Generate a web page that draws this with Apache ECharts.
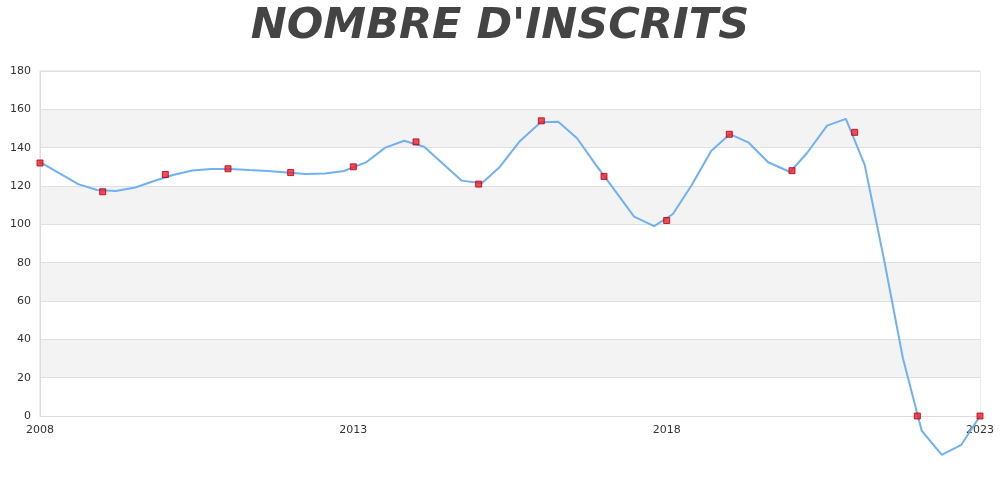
<!DOCTYPE html>
<html>
<head>
<meta charset="utf-8">
<script src="https://cdn.jsdelivr.net/npm/echarts@6/dist/echarts.min.js"></script>
<style>html,body{margin:0;padding:0;background:#fff}#c{width:1000px;height:500px}</style>
</head>
<body>
<div id="c"></div>
<script>
// Yearly data points (red markers)
const years = [2008,2009,2010,2011,2012,2013,2014,2015,2016,2017,2018,2019,2020,2021,2022,2023];
const inscrits = [132,117,126,129,127,130,143,121,154,125,102,147,128,148,0,0];

// Blue curve vertices (year, value)
const curveX = [2008.00,2008.30,2008.61,2008.91,2009.21,2009.52,2009.82,2010.12,2010.43,2010.73,
  2011.03,2011.34,2011.64,2011.94,2012.24,2012.55,2012.85,2013.20,2013.51,2013.81,
  2014.13,2014.73,2015.05,2015.34,2015.66,2015.99,2016.27,2016.57,2016.87,2017.19,
  2017.48,2017.80,2018.10,2018.40,2018.71,2019.01,2019.31,2019.62,2019.97,2020.24,
  2020.56,2020.86,2021.16,2021.47,2021.77,2022.07,2022.39,2022.70,2023.00];
const curveY = [132.5,126.8,121.0,117.9,117.4,119.2,122.6,125.7,128.1,128.9,
  128.9,128.3,127.8,127.0,126.3,126.5,127.8,132.3,140.0,143.6,
  140.5,122.8,121.4,130.1,143.5,153.2,153.5,144.9,131.0,116.9,
  104.0,99.1,105.4,120.5,138.3,147.1,142.6,132.4,127.3,137.2,
  151.5,155.0,131.0,81.4,30.1,-7.7,-20.3,-15.1,0];

const xTicks = {min:2008, max:2023, interval:5};
const yTicks = {min:0, max:180, interval:20};

const chart = echarts.init(document.getElementById('c'));
chart.setOption({
  animation:false,
  backgroundColor:'#fff',
  title:{
    text:"NOMBRE D'INSCRITS",
    left:'center', top:0,
    textStyle:{fontFamily:'DejaVu Sans', fontWeight:'bold', fontStyle:'italic', fontSize:43, color:'#444'}
  },
  grid:{left:40, right:20, top:71, bottom:84, show:true, borderColor:'#dcdcdc', borderWidth:1},
  xAxis:{
    type:'value', min:xTicks.min, max:xTicks.max, interval:xTicks.interval,
    axisLine:{show:true, lineStyle:{color:'#dcdcdc'}},
    axisTick:{show:false},
    splitLine:{show:false},
    axisLabel:{color:'#333', fontSize:11, fontFamily:'DejaVu Sans', margin:9, formatter:v=>String(v)}
  },
  yAxis:{
    type:'value', min:yTicks.min, max:yTicks.max, interval:yTicks.interval,
    axisLine:{show:true, lineStyle:{color:'#dcdcdc'}},
    axisTick:{show:false},
    splitLine:{show:true, lineStyle:{color:'#e0e0e0'}},
    splitArea:{show:true, areaStyle:{color:['#ffffff','#f3f3f3']}},
    axisLabel:{color:'#333', fontSize:11, fontFamily:'DejaVu Sans', margin:9}
  },
  series:[
    {
      type:'line', clip:false, showSymbol:false, symbol:'none',
      data:curveX.map((x,i)=>[x,curveY[i]]),
      lineStyle:{color:'#6fb1f2', width:2},
      z:2
    },
    {
      type:'scatter', clip:false, symbol:'rect', symbolSize:6,
      data:years.map((y,i)=>[y,inscrits[i]]),
      itemStyle:{color:'#f0202c', borderColor:'#b00010', borderWidth:1},
      z:3
    }
  ]
});
</script>
</body>
</html>
